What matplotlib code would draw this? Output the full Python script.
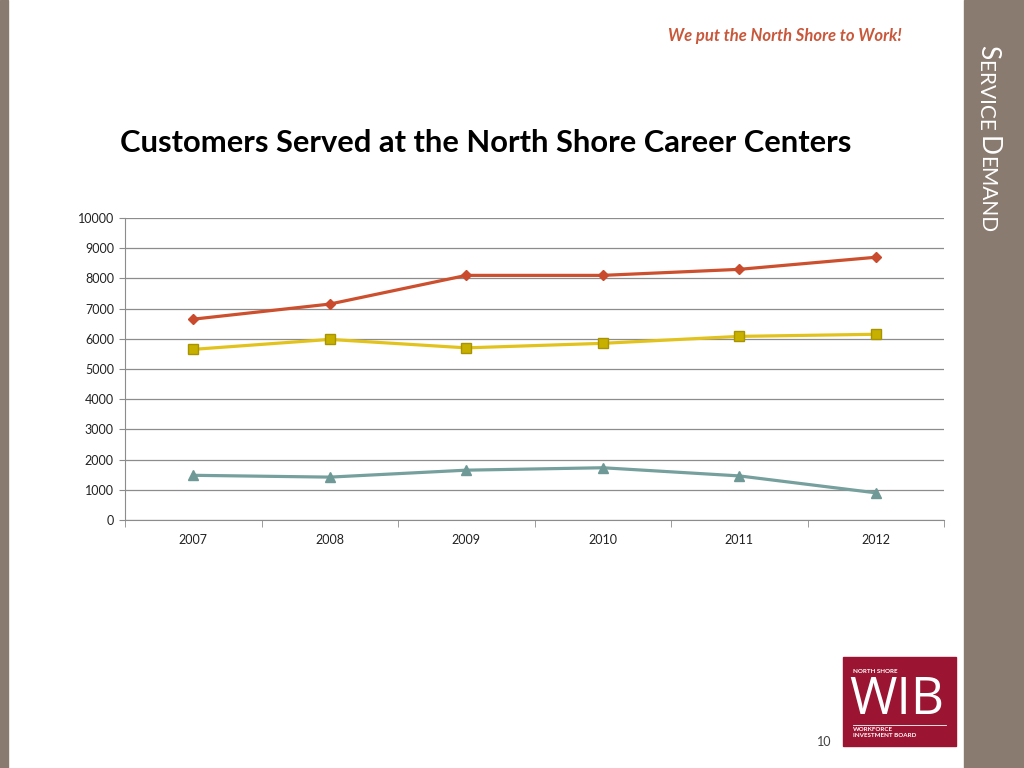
import matplotlib
matplotlib.use("Agg")
import matplotlib.pyplot as plt
from matplotlib.patches import Rectangle
from matplotlib.transforms import IdentityTransform

# dados do grafico
anos = ["2007", "2008", "2009", "2010", "2011", "2012"]
serie_vermelha = [6650, 7150, 8100, 8100, 8300, 8700]
serie_amarela = [5650, 5980, 5700, 5850, 6080, 6150]
serie_verde = [1480, 1420, 1650, 1730, 1460, 900]
marcas_y = [0, 1000, 2000, 3000, 4000, 5000, 6000, 7000, 8000, 9000, 10000]

plt.rcParams["font.family"] = ["Lato", "DejaVu Sans"]

fig = plt.figure(figsize=(10.24, 7.68), dpi=100)
fig.patch.set_facecolor("white")

# camada de fundo em pixels (decoracao do slide)
fundo = fig.add_axes([0, 0, 1, 1])
fundo.set_xlim(0, 1024)
fundo.set_ylim(768, 0)
fundo.axis("off")
marrom = "#8a7b70"
fundo.add_patch(Rectangle((0, 0), 8, 768, color=marrom))
fundo.add_patch(Rectangle((964, 0), 60, 768, color=marrom))

# logo
fundo.add_patch(Rectangle((843, 657), 113, 89, color="#9b1533"))
fundo.text(853, 674, "NORTH SHORE", color="white", fontsize=4.5, fontweight="bold", va="bottom")
fundo.text(849, 726, "WIB", color="white", fontsize=37, family="Open Sans", va="bottom")
fundo.plot([853, 946], [725, 725], color="white", lw=0.6)
fundo.text(853, 727, "WORKFORCE", color="white", fontsize=4.5, fontweight="bold", va="top")
fundo.text(853, 733, "INVESTMENT BOARD", color="white", fontsize=4.5, fontweight="bold", va="top")

fundo.text(831, 742, "10", color="#404040", fontsize=9, ha="right", va="center")

fundo.text(902, 36, "We put the North Shore to Work!", color="#c9573a", fontsize=12,
           fontstyle="italic", fontweight="bold", ha="right", va="center")

fundo.text(120, 143, "Customers Served at the North Shore Career Centers", color="black",
           fontsize=22.2, fontweight="bold", ha="left", va="center")

# texto lateral em versalete
pedacos = [("S", 19), ("ERVICE ", 15), ("D", 19), ("EMAND", 15)]
renderer = fig.canvas.get_renderer()
y_atual = 768 - 45
for texto, tam in pedacos:
    t = fig.text(980, y_atual, texto, color="white", fontsize=tam, rotation=-90,
                 rotation_mode="anchor", ha="left", va="baseline",
                 transform=IdentityTransform())
    bb = t.get_window_extent(renderer)
    y_atual = bb.y0

# grafico principal
ax = fig.add_axes([125 / 1024, 1 - 520 / 768, 819 / 1024, 302 / 768])
x = list(range(len(anos)))
ax.plot(x, serie_vermelha, color="#cc4f2e", lw=2.3, marker="D", ms=5.5,
        mfc="#c94a2c", mec="#c94a2c", zorder=3)
ax.plot(x, serie_amarela, color="#e2c31e", lw=2.3, marker="s", ms=7,
        mfc="#c8b000", mec="#a89400", zorder=3)
ax.plot(x, serie_verde, color="#76a09d", lw=2.3, marker="^", ms=7.5,
        mfc="#6f9996", mec="#6f9996", zorder=3)

ax.set_xlim(-0.5, len(anos) - 0.5)
ax.set_ylim(0, 10000)
ax.set_yticks(marcas_y)
ax.set_yticklabels([str(v) for v in marcas_y])
ax.grid(axis="y", color="#8c8c8c", lw=0.9)
ax.set_axisbelow(True)

ax.set_xticks(x)
ax.set_xticklabels(anos)
ax.set_xticks([i - 0.5 for i in range(len(anos) + 1)], minor=True)
ax.tick_params(axis="x", which="major", length=0, pad=10, labelsize=9, labelcolor="#222222")
ax.tick_params(axis="x", which="minor", length=5, color="#8c8c8c", direction="out")
ax.tick_params(axis="y", length=4, color="#8c8c8c", labelsize=9, labelcolor="#222222", pad=4)

for lado in ["top", "right"]:
    ax.spines[lado].set_visible(False)
ax.spines["left"].set_color("#8c8c8c")
ax.spines["bottom"].set_color("#8c8c8c")

fig.savefig("out.png", dpi=100)
